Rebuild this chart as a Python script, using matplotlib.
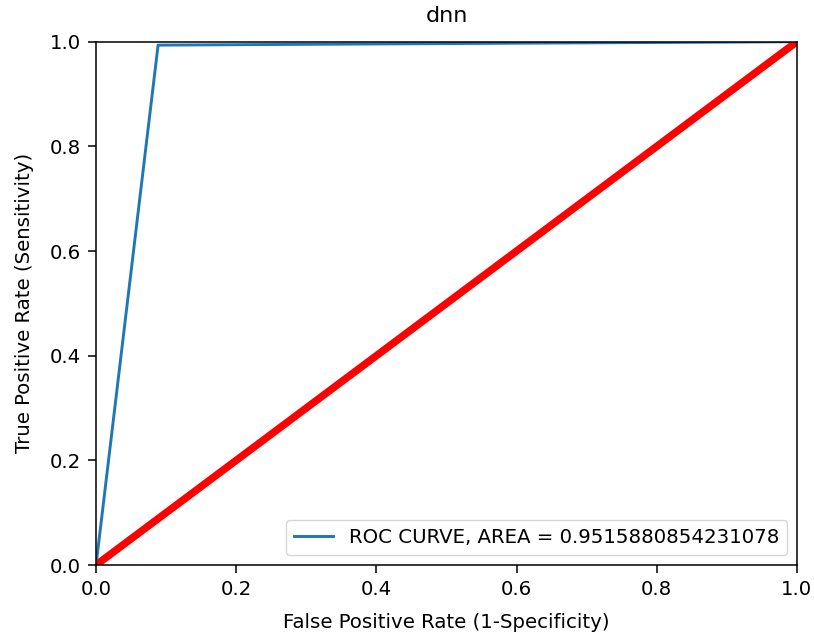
import numpy as np
import matplotlib
matplotlib.use("Agg")
import matplotlib.pyplot as plt

fpr = [0.0, 0.0885, 1.0]
tpr = [0.0, 0.9935, 1.0]
auc_val = 0.9515880854231078
diag = [0.0, 1.0]

fig = plt.figure(figsize=(8.14, 6.32), dpi=100)
ax = fig.add_axes([0.118, 0.106, 0.861, 0.828])
ax.plot(fpr, tpr, linewidth=2.1, label="ROC CURVE, AREA = " + str(auc_val))
ax.plot(diag, diag, color="red", linewidth=5.4)
ax.set_xlim(0, 1)
ax.set_ylim(0, 1)
ax.set_xlabel("False Positive Rate (1-Specificity)", fontsize=14.2, labelpad=10)
ax.set_ylabel("True Positive Rate (Sensitivity)", fontsize=14.2, labelpad=11)
ax.set_title("dnn", fontsize=16, pad=14)
ax.tick_params(labelsize=14.2, length=6, width=1.1, pad=5)
for s in ax.spines.values():
    s.set_linewidth(1.1)
ax.legend(loc="lower right", fontsize=14.2)
fig.savefig("out.png", dpi=100)
